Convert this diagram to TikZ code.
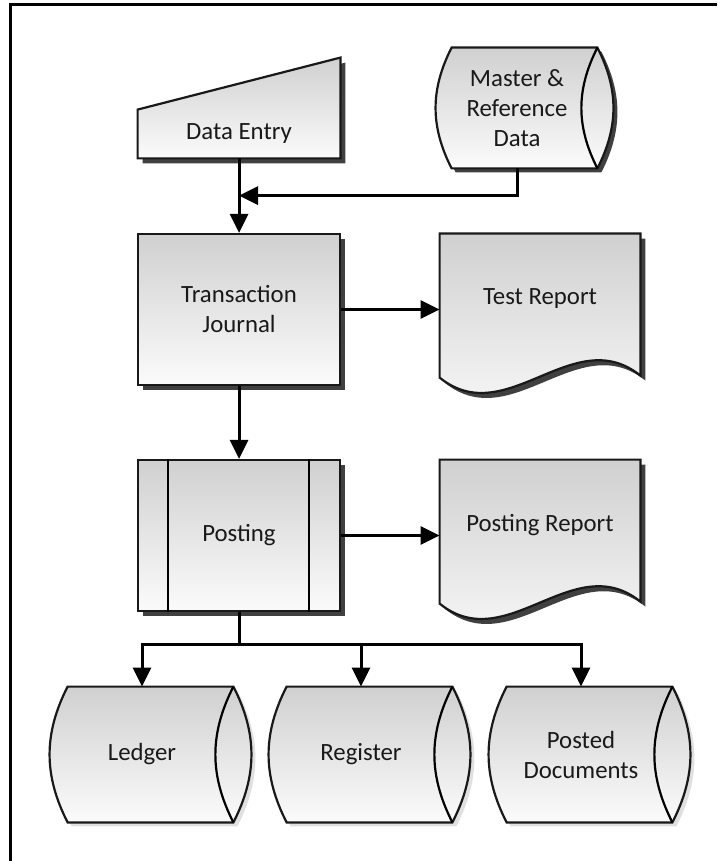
\documentclass[tikz,border=0pt]{standalone}
\usepackage{fontspec}
\setmainfont{Carlito}
\usetikzlibrary{arrows.meta,calc,positioning,shadows,backgrounds}
\definecolor{shadetop}{HTML}{D0D0D0}
\definecolor{shadebot}{HTML}{FBFBFB}
\tikzset{
  txt/.style={inner sep=0pt,align=center,font=\fontsize{12.4}{15}\selectfont,text=black!90},
  shapefill/.style={draw=black!90,line width=1.1pt,top color=shadetop,bottom color=shadebot},
  box/.style={txt,shapefill,minimum width=101pt,minimum height=75.5pt},
  darkshadow/.style={drop shadow={shadow xshift=2.5pt,shadow yshift=-2.5pt,fill=black!75,opacity=1}},
  storeshadow/.style={drop shadow={shadow xshift=2pt,shadow yshift=-2pt,fill=#1,opacity=1}},
  flow/.style={line width=1.5pt,->},
}

\begin{document}
\begin{tikzpicture}[x=0.5pt,y=0.5pt,>={Triangle[length=9.5pt,width=9pt]},line join=miter]
\useasboundingbox (0,0) rectangle (717,-861);
% --- frame
\draw[line width=1.5pt] (10,-861) -- (10,-5) -- (717,-5);
% --- nodes
\node[txt,minimum width=101pt,minimum height=24pt] (entry) at (239,-134) {Data Entry};
\node[txt,minimum width=65pt,minimum height=60pt] (master) at (517,-108) {Master \&\\Reference\\Data};
\node[box,darkshadow] (tj) at (239,-309.5) {Transaction\\Journal};
\node[txt,minimum width=100pt,minimum height=65pt] (testrep) at (540,-299) {Test Report};
\node[box,darkshadow] (post) at (239,-535.5) {Posting};
\node[txt,minimum width=100pt,minimum height=65pt] (postrep) at (540,-525) {Posting Report};
\foreach \n/\x/\t in {ledger/142/Ledger,register/361/Register,posted/581/{Posted\\Documents}}
  \node[txt,minimum width=74pt,minimum height=67.5pt] (\n) at (\x,-754.5) {\t};
% predefined process bars
\draw[line width=1.1pt] ($(post.north west)+(31,0)$) -- ($(post.south west)+(31,0)$);
\draw[line width=1.1pt] ($(post.north east)+(-32,0)$) -- ($(post.south east)+(-32,0)$);
% --- outlines behind the text
\begin{scope}[on background layer]
% manual input
\path[shapefill,darkshadow] (entry.south west) -- (entry.south east) -- ($(entry.north east)+(0,52)$) -- (entry.north west) -- cycle;
% documents
\foreach \n in {testrep,postrep}
  \path[shapefill,darkshadow] (\n.north west) -- (\n.north east) -- ($(\n.north east)+(0,-142)$) .. controls +(-67,54) and +(67,-54) .. ($(\n.north west)+(0,-144)$) -- cycle;
% stored data
\foreach \n/\d/\c in {master/15/black!75,ledger/17/black!12,register/17/black!12,posted/17/black!12} {
  \path[shapefill,storeshadow=\c] (\n.north west) -- ($(\n.north east)+(\d,0)$) to[bend left=27] ($(\n.south east)+(\d,0)$) -- (\n.south west) to[bend left=27] (\n.north west) -- cycle;
  \draw[line width=1.1pt] ($(\n.north east)+(\d,0)$) to[bend right=27] ($(\n.south east)+(\d,0)$);
}
\end{scope}
% --- connectors
\draw[flow] (entry.south) -- (tj.north);
\draw[flow] (master.south) |- ($(entry.south)!.5!(tj.north)$);
\draw[flow] (tj.east) -- (tj.east -| testrep.west);
\draw[flow] (tj.south) -- (post.north);
\draw[flow] (post.east) -- (post.east -| postrep.west);
\coordinate (bus) at ($(post.south)+(0,-32)$);
\draw[line width=1.5pt] (post.south) -- (bus);
\foreach \t in {ledger,register,posted}
  \draw[flow] (bus) -| (\t.north);
\end{tikzpicture}
\end{document}
